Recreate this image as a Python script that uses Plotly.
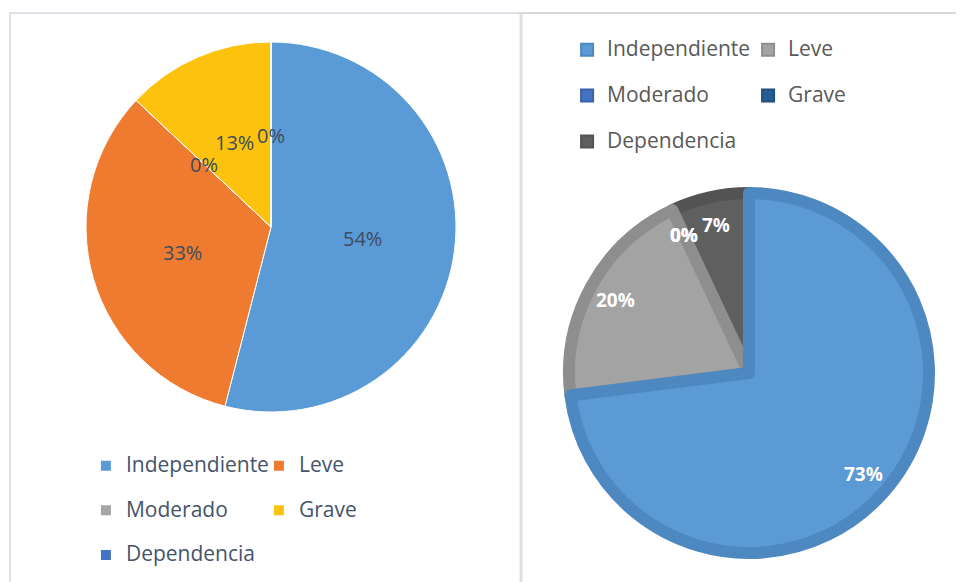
import math
import plotly.graph_objects as go

# ─── Datos ───────────────────────────────────────────────────────────────────
categorias = ["Independiente", "Leve", "Moderado", "Grave", "Dependencia"]
pct_izq = [54, 33, 0, 13, 0]
pct_der = [73, 20, 0, 0, 7]

# ─── Paleta ──────────────────────────────────────────────────────────────────
COL_IZQ = ["#5A9AD6", "#EE7B30", "#A5A5A5", "#FCC20E", "#4472C4"]
COL_DER = ["#5B9AD4", "#A3A3A3", "#4472C4", "#255E91", "#5F5F5F"]
BORDE_DER = ["#4E88C0", "#8E8E8E", "#3A62A8", "#1F4F7A", "#535353"]
ANCHO_DER = [12, 12, 0, 0, 12]
TXT_IZQ = "#44546A"
TXT_DER = "#595959"

# ─── Geometría (px de pantalla; la página añade 8 px de margen) ──────────────
W, H = 964, 582
OFF = 8
ML, MR = 78, 43
PW = W - ML - MR
FONT = "Open Sans"


def px_x(p):
    return min(1.0, (p - OFF - ML) / PW)


def px_y(p):
    return (H - (p - OFF)) / H


def etiquetas(valores, dom_x, dom_y, r_px, font, negrita=False):
    """Etiquetas de porcentaje sobre el ángulo medio de cada porción."""
    total = sum(valores)
    cx = (dom_x[0] + dom_x[1]) / 2
    cy = (dom_y[0] + dom_y[1]) / 2
    anns, acum = [], 0
    for v in valores:
        ang = 2 * math.pi * (acum + v / 2) / total
        acum += v
        txt = f"{math.floor(100 * v / total + 0.5)}%"
        anns.append(dict(
            x=cx + r_px * math.sin(ang) / PW,
            y=cy + r_px * math.cos(ang) / H,
            xref="paper", yref="paper", xanchor="center", yanchor="middle",
            showarrow=False, font=font,
            text=f"<b>{txt}</b>" if negrita else txt,
        ))
    return anns


def nombre_leyenda(c, color):
    # primera línea vacía: da a cada fila de la leyenda la altura del original
    return f"&nbsp;<br><span style='font-size:21px;color:{color}'>{c}</span>"


dom_izq = dict(x=[px_x(86), px_x(456)], y=[px_y(412), px_y(42)])
dom_der = dict(x=[px_x(569), px_x(929)], y=[px_y(553), px_y(193)])

fig = go.Figure()

fig.add_trace(go.Pie(
    labels=[nombre_leyenda(c, TXT_IZQ) for c in categorias], values=pct_izq,
    sort=False, direction="clockwise", rotation=0,
    domain=dom_izq, textinfo="none", hoverinfo="label+percent",
    marker=dict(colors=COL_IZQ, line=dict(color="white", width=1)),
    legend="legend",
))

# orden invertido para que la porción azul se dibuje encima
fig.add_trace(go.Pie(
    labels=[nombre_leyenda(c, TXT_DER) for c in categorias][::-1],
    values=pct_der[::-1],
    sort=False, direction="counterclockwise",
    rotation=-360 * pct_der[-1] / sum(pct_der),
    domain=dom_der, textinfo="none", hoverinfo="label+percent",
    marker=dict(colors=COL_DER[::-1],
                line=dict(color=BORDE_DER[::-1], width=ANCHO_DER[::-1])),
    legend="legend2",
))

anns = etiquetas(pct_izq, dom_izq["x"], dom_izq["y"], 92,
                 dict(family=FONT, size=20, color="#3E4B5E"))
anns += etiquetas(pct_der, dom_der["x"], dom_der["y"], 152,
                  dict(family=FONT, size=19, color="white"), negrita=True)

_leg = dict(orientation="h", xref="paper", yref="paper", yanchor="top",
            valign="bottom", bgcolor="rgba(0,0,0,0)", itemsizing="constant",
            itemclick=False, itemdoubleclick=False)

fig.update_layout(
    width=W, height=H,
    margin=dict(l=ML, r=MR, t=0, b=0, autoexpand=False),
    paper_bgcolor="white", plot_bgcolor="white",
    font=dict(family=FONT),
    annotations=anns,
    legend=dict(_leg, x=-0.0001, xanchor="left", y=px_y(428), entrywidth=128,
                font=dict(family=FONT, size=16, color=TXT_IZQ)),
    legend2=dict(_leg, x=1.0001, xanchor="right", y=px_y(11), entrywidth=136,
                 traceorder="reversed",
                 font=dict(family=FONT, size=16.5, color=TXT_DER)),
    shapes=[
        dict(type="line", xref="paper", yref="paper", x0=(10 - OFF - ML) / PW,
             x1=(10 - OFF - ML) / PW, y0=px_y(12), y1=px_y(600),
             line=dict(color="#DEE2E8", width=2)),
        dict(type="line", xref="paper", yref="paper", x0=(10 - OFF - ML) / PW,
             x1=(521 - OFF - ML) / PW, y0=px_y(13), y1=px_y(13),
             line=dict(color="#DEE2E8", width=2)),
        dict(type="line", xref="paper", yref="paper", x0=(521 - OFF - ML) / PW,
             x1=(521 - OFF - ML) / PW, y0=px_y(12), y1=px_y(600),
             line=dict(color="#DCE0E6", width=3)),
        dict(type="line", xref="paper", yref="paper", x0=(521 - OFF - ML) / PW,
             x1=(980 - OFF - ML) / PW, y0=px_y(13), y1=px_y(13),
             line=dict(color="#D9D9D9", width=2)),
    ],
)

fig.write_html("out.html")
